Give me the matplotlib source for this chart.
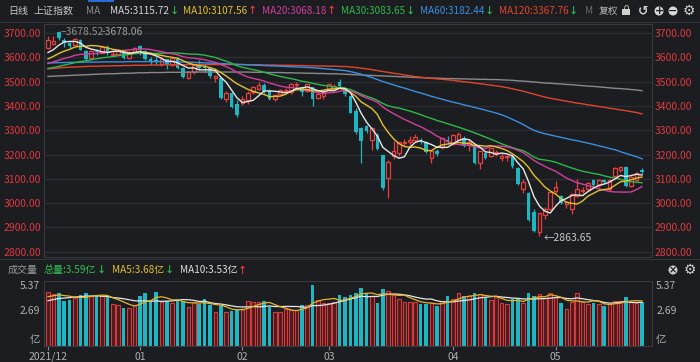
import numpy as np
import pandas as pd
import matplotlib
matplotlib.use('Agg')
import matplotlib.pyplot as plt
from matplotlib.patches import Circle, Rectangle

plt.rcParams['font.family'] = ['Noto Sans CJK SC', 'DejaVu Sans']

# ---- data: SSE composite, daily, 2021-12-09 .. 2022-05-27 ----
month_ticks = [0, 17, 36, 52, 75, 94]
month_labels = ['2021/12', '01', '02', '03', '04', '05']

opens = [3640, 3657, 3705, 3672, 3660, 3650, 3672, 3626, 3596, 3628,
         3620, 3645, 3612, 3614, 3630, 3596, 3620, 3649, 3628, 3592,
         3590, 3575, 3592, 3570, 3598, 3555, 3517, 3540, 3570, 3560,
         3555, 3515, 3516, 3430, 3452, 3410, 3412, 3425, 3458, 3470,
         3485, 3460, 3428, 3450, 3460, 3458, 3485, 3478, 3462, 3478,
         3435, 3440, 3465, 3475, 3500, 3465, 3440, 3378, 3310, 3316,
         3262, 3282, 3198, 3105, 3195, 3205, 3248, 3250, 3262, 3262,
         3250, 3185, 3215, 3230, 3260, 3245, 3260, 3270, 3240, 3240,
         3165, 3205, 3195, 3205, 3185, 3190, 3193, 3145, 3060, 3043,
         2962, 2880, 2950, 2975, 3050, 3030, 2995, 2975, 3030, 3050,
         3060, 3095, 3073, 3095, 3060, 3110, 3135, 3150, 3070, 3095,
         3135]
highs = [3688, 3688, 3708.94, 3680, 3665, 3680, 3676, 3630, 3630, 3635,
         3648, 3650, 3625, 3635, 3632, 3625, 3642, 3652, 3630, 3600,
         3601, 3598, 3595, 3600, 3602, 3560, 3545, 3574, 3590, 3572,
         3560, 3527, 3520, 3460, 3455, 3425, 3440, 3460, 3482, 3497,
         3495, 3470, 3450, 3472, 3475, 3495, 3500, 3480, 3492, 3480,
         3457, 3465, 3491, 3490, 3511, 3470, 3443, 3390, 3315, 3320,
         3312, 3290, 3200, 3176, 3258, 3253, 3265, 3275, 3285, 3268,
         3255, 3220, 3225, 3270, 3275, 3285, 3295, 3275, 3260, 3245,
         3215, 3210, 3228, 3220, 3205, 3200, 3198, 3150, 3098, 3045,
         2975, 2960, 2985, 3050, 3090, 3035, 3010, 3040, 3098, 3065,
         3088, 3100, 3098, 3100, 3100, 3150, 3150, 3152, 3110, 3130,
         3145]
lows = [3637, 3650, 3672, 3645, 3640, 3646, 3630, 3590, 3592, 3612,
        3618, 3610, 3605, 3610, 3594, 3592, 3617, 3610, 3590, 3570,
        3570, 3565, 3554, 3566, 3553, 3515, 3510, 3530, 3550, 3540,
        3516, 3500, 3430, 3415, 3390, 3355, 3405, 3410, 3450, 3465,
        3455, 3425, 3422, 3448, 3455, 3450, 3478, 3440, 3458, 3400,
        3428, 3430, 3460, 3465, 3475, 3440, 3370, 3285, 3165, 3290,
        3220, 3220, 3055, 3023, 3180, 3195, 3235, 3240, 3255, 3245,
        3205, 3165, 3195, 3225, 3245, 3240, 3255, 3230, 3215, 3160,
        3140, 3180, 3190, 3195, 3175, 3175, 3145, 3075, 3040, 2925,
        2880, 2863.65, 2935, 2970, 3040, 2995, 2980, 2955, 3025, 3040,
        3050, 3065, 3065, 3080, 3050, 3105, 3130, 3065, 3065, 3090,
        3120]
closes = [3673.04, 3666.35, 3681.08, 3661.53, 3647.63, 3675.02, 3632.36, 3593.60, 3625.13, 3622.62,
          3643.34, 3618.05, 3615.97, 3630.11, 3597.00, 3619.19, 3639.78, 3632.33, 3595.18, 3586.08,
          3579.54, 3593.52, 3567.44, 3597.43, 3555.06, 3521.26, 3541.67, 3569.91, 3558.18, 3555.06,
          3522.57, 3524.11, 3433.06, 3455.67, 3394.25, 3361.44, 3429.58, 3452.63, 3479.95, 3485.91,
          3462.95, 3428.88, 3446.65, 3465.83, 3468.04, 3490.76, 3490.61, 3457.15, 3489.15, 3429.96,
          3451.41, 3462.31, 3488.83, 3484.19, 3481.11, 3447.65, 3372.86, 3293.53, 3256.39, 3296.09,
          3309.75, 3223.53, 3063.97, 3170.71, 3215.04, 3251.07, 3253.69, 3259.86, 3271.03, 3250.26,
          3212.24, 3214.50, 3203.94, 3266.60, 3252.20, 3282.72, 3283.43, 3236.70, 3251.85, 3167.13,
          3213.33, 3186.82, 3225.64, 3211.24, 3195.52, 3194.03, 3151.05, 3079.81, 3086.92, 2928.51,
          2886.43, 2958.28, 2975.48, 3047.06, 3067.76, 3001.56, 3004.14, 3035.84, 3058.70, 3054.99,
          3084.28, 3073.75, 3093.70, 3085.98, 3096.96, 3146.57, 3146.86, 3070.93, 3107.46, 3123.11,
          3130.24]
# closes before the visible window (for the short moving averages)
prior_closes = [3547.34, 3544.48, 3505.63, 3498.54, 3526.87, 3491.57, 3498.63, 3507.00, 3492.46,
                3532.79, 3539.10, 3533.30, 3521.79, 3537.37, 3520.71, 3560.37, 3582.08, 3589.09,
                3592.70, 3584.18, 3564.09, 3562.70, 3563.89, 3576.89, 3573.84, 3607.43, 3589.31,
                3595.09, 3637.57]

# long moving averages
ma60 = [3578, 3578, 3579, 3579, 3580, 3580, 3580, 3581, 3581, 3581,
        3582, 3582, 3582, 3582, 3582, 3583, 3583, 3583, 3583, 3583,
        3583, 3583, 3582, 3582, 3582, 3581, 3581, 3580, 3579, 3578,
        3577, 3576, 3575, 3574, 3573, 3572, 3571, 3570, 3569, 3568,
        3567, 3566, 3565, 3564, 3563, 3562, 3561, 3560, 3559, 3558,
        3556, 3554, 3552, 3550, 3548, 3546, 3542, 3537, 3531, 3524,
        3517, 3509, 3501, 3494, 3487, 3480, 3474, 3467, 3460, 3454,
        3447, 3440, 3434, 3428, 3422, 3416, 3411, 3405, 3400, 3394,
        3389, 3383, 3377, 3371, 3364, 3355, 3345, 3335, 3324, 3311,
        3300, 3292, 3286, 3281, 3276, 3271, 3266, 3261, 3257, 3252,
        3247, 3242, 3236, 3231, 3225, 3220, 3212, 3205, 3198, 3191,
        3182.44]
ma120 = [3553, 3555, 3557, 3559, 3560, 3561, 3562, 3563, 3564, 3564,
         3565, 3565, 3566, 3566, 3567, 3567, 3568, 3568, 3568, 3569,
         3569, 3569, 3570, 3570, 3570, 3570, 3571, 3571, 3571, 3571,
         3571, 3571, 3571, 3571, 3571, 3571, 3571, 3570, 3570, 3570,
         3569, 3569, 3569, 3568, 3568, 3568, 3567, 3567, 3566, 3566,
         3565, 3565, 3564, 3564, 3563, 3563, 3561, 3559, 3556, 3553,
         3550, 3546, 3542, 3539, 3535, 3532, 3528, 3525, 3521, 3519,
         3516, 3514, 3512, 3510, 3508, 3506, 3503, 3500, 3498, 3495,
         3492, 3489, 3486, 3483, 3480, 3476, 3471, 3466, 3461, 3455,
         3449, 3443, 3437, 3432, 3428, 3424, 3420, 3416, 3412, 3409,
         3405, 3402, 3398, 3395, 3391, 3388, 3384, 3381, 3377, 3373,
         3367.76]
ma250 = [3522, 3523, 3524, 3525, 3526, 3527, 3528, 3529, 3530, 3531,
         3532, 3533, 3533, 3534, 3535, 3535, 3536, 3537, 3537, 3538,
         3538, 3538, 3539, 3539, 3539, 3539, 3540, 3540, 3540, 3540,
         3540, 3540, 3540, 3540, 3540, 3540, 3540, 3540, 3539, 3539,
         3539, 3538, 3538, 3538, 3537, 3537, 3536, 3536, 3535, 3535,
         3534, 3534, 3533, 3533, 3532, 3531, 3530, 3529, 3528, 3527,
         3526, 3525, 3524, 3523, 3522, 3521, 3520, 3519, 3518, 3517,
         3516, 3515, 3515, 3514, 3513, 3513, 3512, 3512, 3511, 3511,
         3510, 3510, 3509, 3509, 3508, 3507, 3506, 3504, 3503, 3501,
         3499, 3497, 3495, 3494, 3492, 3491, 3489, 3488, 3486, 3484,
         3482, 3481, 3479, 3477, 3475, 3473, 3472, 3470, 3468, 3466,
         3463]

# volume, 亿
volumes = [4.59, 4.38, 4.49, 3.70, 3.77, 3.95, 4.31, 4.56, 4.20, 4.20,
           4.20, 4.13, 3.35, 3.21, 2.95, 2.95, 3.21, 4.24, 4.49, 3.60,
           4.66, 3.60, 3.63, 3.42, 3.70, 3.70, 2.99, 3.56, 3.31, 3.88,
           3.21, 2.53, 3.17, 2.49, 2.64, 2.78, 2.74, 3.70, 3.60, 3.56,
           3.67, 3.06, 2.53, 2.46, 2.81, 2.71, 2.71, 3.21, 3.21, 5.37,
           3.77, 3.49, 3.49, 3.60, 4.31, 4.06, 4.31, 4.49, 5.02, 4.56,
           4.20, 3.42, 4.95, 4.73, 4.38, 3.84, 3.60, 3.60, 3.60, 3.31,
           3.31, 3.42, 3.14, 3.70, 4.20, 3.84, 4.49, 4.20, 4.20, 4.49,
           4.38, 4.02, 3.77, 4.13, 3.42, 3.35, 3.84, 3.95, 3.49, 4.56,
           4.20, 4.38, 3.95, 4.56, 4.06, 3.42, 2.78, 3.60, 4.49, 3.60,
           3.31, 3.45, 3.34, 3.09, 3.32, 3.70, 3.70, 4.10, 3.52, 3.49,
           3.59]
prior_volumes = [3.2, 3.3, 3.3, 3.25, 3.3, 3.9, 4.0, 4.1, 4.06]

price_ticks = [3700, 3600, 3500, 3400, 3300, 3200, 3100, 3000, 2900, 2800]

# ---- colours ----
BG = '#1c1d21'
GRID = '#2c2e33'
FRAME = '#383a40'
UP = '#e8403f'
DOWN = '#1fb5c1'
RED_TXT = '#e0393e'
GRAY_TXT = '#b0b0b0'
ARROW_UP = '#ff3b3b'
ARROW_DN = '#27c24c'
ma_colors = {5: '#e6e6e6', 10: '#e3c22a', 20: '#d23f9e', 30: '#2fb84b',
             60: '#3b8fe0', 120: '#e0462c', 250: '#8a8a8a'}

n = len(closes)
xs = np.arange(n)
o = np.array(opens, float)
h = np.array(highs, float)
l = np.array(lows, float)
c = np.array(closes, float)
v = np.array(volumes, float)
up = c >= o

cs = pd.Series(prior_closes + closes)
ma = {k: cs.rolling(k).mean().to_numpy()[len(prior_closes):] for k in (5, 10, 20, 30)}
ma[60] = np.array(ma60, float)
ma[120] = np.array(ma120, float)
ma[250] = np.array(ma250, float)
vs = pd.Series(prior_volumes + volumes)
vma5 = vs.rolling(5).mean().to_numpy()[len(prior_volumes):]
vma10 = vs.rolling(10).mean().to_numpy()[len(prior_volumes):]

W, H = 700, 362
fig = plt.figure(figsize=(W / 100, H / 100), dpi=100, facecolor=BG)
renderer = fig.canvas.get_renderer()


def ftext(x, y, s, **kw):
    kw.setdefault('va', 'center')
    return fig.text(x / W, 1 - y / H, s, **kw)


def legend_row(x, y, items, fs, gap):
    # items: (text, colour, rising) drawn left to right, each followed by an arrow
    for s, col, rising in items:
        t = ftext(x, y, s, color=col, fontsize=fs)
        x1 = t.get_window_extent(renderer).x1
        a = ftext(x1 + 0.3, y, '↑' if rising else '↓', color=ARROW_UP if rising else ARROW_DN,
                  fontsize=fs - 0.5, fontweight='bold')
        x = a.get_window_extent(renderer).x1 + gap
    return x


# ---- price panel ----
ax = fig.add_axes([44 / W, 1 - 257 / H, (652 - 44) / W, (257 - 24) / H])
ax.set_facecolor(BG)
ax.set_xlim(-0.74, 111.85)
ax.set_ylim(2778, 3738)
for y in price_ticks:
    ax.axhline(y, color=GRID, lw=0.9, zorder=0)

bw = 0.64
body_lo = np.minimum(o, c)
body_hi = np.maximum(o, c)
body_h = np.maximum(body_hi - body_lo, 1.2)
ax.vlines(xs[~up], l[~up], h[~up], color=DOWN, lw=0.9, zorder=2)
ax.vlines(xs[up], l[up], body_lo[up], color=UP, lw=0.9, zorder=2)
ax.vlines(xs[up], body_hi[up], h[up], color=UP, lw=0.9, zorder=2)
ax.bar(xs[~up], body_h[~up], bottom=body_lo[~up], width=bw, color=DOWN, lw=0, zorder=3)
ax.bar(xs[up], body_h[up], bottom=body_lo[up], width=bw, facecolor=BG, edgecolor=UP, lw=0.9, zorder=3)

for k in (250, 120, 60, 30, 20, 10, 5):
    ax.plot(xs, ma[k], color=ma_colors[k], lw=1.0, zorder=4)

ax.set_yticks(price_ticks)
ax.set_yticklabels(['%.2f' % t for t in price_ticks])
ax.tick_params(axis='y', length=0, colors=RED_TXT, labelsize=7.5, labelleft=True, labelright=True, pad=2)
ax.set_xticks([])
for s in ax.spines.values():
    s.set_color(FRAME)
    s.set_linewidth(0.8)

low_i = int(np.argmin(l))
ax.text(low_i + 0.8, l[low_i] - 8, '←%.2f' % l[low_i], color='#c8c8c8', fontsize=7.5,
        va='center', ha='left', zorder=6)
high_i = int(np.argmax(h))
ax.text(high_i + 0.4, 3706, '‒3678.52', color='#8f8f8f', fontsize=7.5, va='center', ha='left', zorder=6)
ax.text(high_i + 8.0, 3706, '-3678.06', color='#a0a0a0', fontsize=7.5, va='center', ha='left', zorder=6)

# ---- volume panel ----
axv = fig.add_axes([44 / W, 1 - 346 / H, (652 - 44) / W, (346 - 281) / H])
axv.set_facecolor(BG)
axv.set_xlim(-0.74, 111.85)
vbot = -1.13
axv.set_ylim(vbot, 5.80)
axv.bar(xs[~up], v[~up] - vbot, bottom=vbot, width=bw, color=DOWN, lw=0, zorder=2)
axv.bar(xs[up], v[up] - vbot, bottom=vbot, width=bw, facecolor='#4a1c1f', edgecolor='#d83a3c',
        lw=0.8, zorder=2)
axv.plot(xs, vma10, color='#e6e6e6', lw=0.9, zorder=3)
axv.plot(xs, vma5, color='#e3b52a', lw=0.9, zorder=3)
axv.set_yticks([5.37, 2.69, -0.38])
axv.set_yticklabels(['5.37', '2.69', '亿'])
axv.tick_params(axis='y', length=0, colors=GRAY_TXT, labelsize=7.5, labelleft=True, labelright=True, pad=3)
axv.set_xticks(month_ticks)
axv.set_xticklabels(month_labels)
axv.tick_params(axis='x', length=3, color='#8a8a8a', colors=GRAY_TXT, labelsize=7.5, pad=1)
for s in axv.spines.values():
    s.set_color(FRAME)
    s.set_linewidth(0.8)

# ---- header rows ----
fig.add_artist(Rectangle((88 / W, 1 - 2 / H), 26 / W, 2 / H, transform=fig.transFigure, color='#2a6fd6', lw=0))
fig.add_artist(plt.Line2D([0, 1], [1 - 22 / H, 1 - 22 / H], transform=fig.transFigure, color=FRAME, lw=0.6))
fig.add_artist(plt.Line2D([0, 1], [1 - 259 / H, 1 - 259 / H], transform=fig.transFigure, color=FRAME, lw=0.6))

ty = 11
fs = 7.2
ftext(8, ty, '日线', color='#c8c8c8', fontsize=fs)
ftext(33, ty, '上证指数', color='#c8c8c8', fontsize=fs)
ftext(86, ty, 'MA', color='#8c8c8c', fontsize=fs)
x_end = legend_row(110, ty, [('MA5:%.2f' % ma[5][-1], '#d4d4d4', False),
                             ('MA10:%.2f' % ma[10][-1], '#e3c22a', True),
                             ('MA20:%.2f' % ma[20][-1], '#d23f9e', True),
                             ('MA30:%.2f' % ma[30][-1], '#2fb84b', False),
                             ('MA60:%.2f' % ma[60][-1], '#3b8fe0', False),
                             ('MA120:%.2f' % ma[120][-1], '#e0462c', False)], fs, 5)
ftext(x_end + 2, ty, 'M', color='#6a6a6a', fontsize=fs)
ftext(max(598, x_end + 16), ty, '复权', color='#b8b8b8', fontsize=7)
# lock
fig.add_artist(Rectangle((622 / W, 1 - 15 / H), 8 / W, 6 / H, transform=fig.transFigure, color='#d0d0d0', lw=0))
ftext(626, 8, '∩', color='#d0d0d0', fontsize=7, ha='center', family='DejaVu Sans')
ftext(643, ty, '↺', color='#d0d0d0', fontsize=9, ha='center', family='DejaVu Sans', fontweight='bold')
for cx, sym in ((659, '+'), (673, '−')):
    fig.add_artist(Circle((cx / 100, (H - ty) / 100), 0.045, transform=fig.dpi_scale_trans, color='#d8d8d8', lw=0))
    ftext(cx, ty, sym, color=BG, fontsize=8, ha='center', fontweight='bold', family='DejaVu Sans')
ftext(689, ty, '⚙', color='#d0d0d0', fontsize=10, ha='center', family='DejaVu Sans')

vy = 270
ftext(8, vy, '成交量', color='#9a9a9a', fontsize=fs)
legend_row(44, vy, [('总量:%.2f亿' % v[-1], '#2fc250', False),
                    ('MA5:%.2f亿' % vma5[-1], '#e3c22a', False),
                    ('MA10:%.2f亿' % vma10[-1], '#e0e0e0', True)], fs, 6)
fig.add_artist(Circle((673 / 100, (H - vy) / 100), 0.045, transform=fig.dpi_scale_trans, color='#cfcfcf', lw=0))
ftext(673, vy, '×', color=BG, fontsize=7, ha='center', fontweight='bold', family='DejaVu Sans')
ftext(690, vy, '⚙', color='#d0d0d0', fontsize=10, ha='center', family='DejaVu Sans')

fig.savefig('out.png', dpi=100, facecolor=BG)
